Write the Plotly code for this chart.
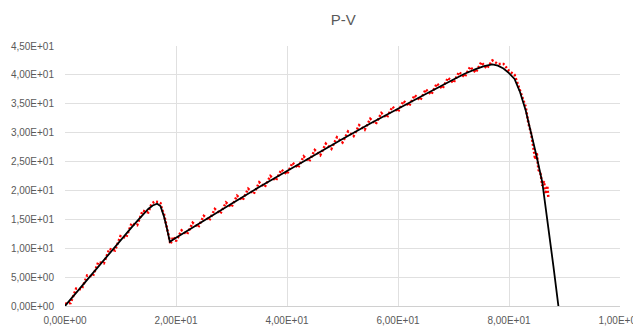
import plotly.graph_objects as go

# Fitted curve (black)
fit_x = [0, 2, 4, 6, 8, 10, 12, 13, 14, 15, 15.8, 16.6, 17.2, 17.8, 18.3, 18.9,
         20, 25, 30, 35, 40, 45, 50, 55, 60, 65, 70, 72, 74, 75.5, 77, 78, 79,
         80, 81, 82, 83, 84, 85, 86, 87, 88, 88.9]
fit_y = [0, 2.3, 4.6, 6.9, 9.2, 11.4, 13.6, 14.7, 15.8, 16.8, 17.4, 17.7, 17.3,
         15.6, 13.7, 11.1, 11.8, 14.8, 17.7, 20.6, 23.4, 26.2, 28.9, 31.6, 34.2,
         36.7, 39.2, 40.2, 41.0, 41.5, 41.8, 41.6, 41.1, 40.3, 39.3, 37.0, 33.9,
         30.0, 25.8, 21.4, 14.6, 6.9, 0]

# Measured data (red dotted)
data_x = [0, 1, 2, 3, 4, 5, 6, 7, 8, 9, 10, 11, 12, 13, 14, 15, 15.6, 16.2, 16.8,
          17.2, 17.5, 17.8, 18.1, 18.4, 18.7, 19.0, 19.5,
          20, 21, 22, 23, 24, 25, 26, 27, 28, 29, 30, 31, 32, 33, 34, 35, 36, 37,
          38, 39, 40, 41, 42, 43, 44, 45, 46, 47, 48, 49, 50, 51, 52, 53, 54, 55,
          56, 57, 58, 59, 60, 61, 62, 63, 64, 65, 66, 67, 68, 69, 70, 71, 72, 73,
          74, 75, 76, 77, 78, 79, 80, 81, 82, 83, 83.5, 84, 84.4, 84.7, 85, 85.3,
          85.7, 86, 86.3, 86.6, 86.9, 87.1]
data_y = [0.4, 0.5, 3.0, 2.9, 5.3, 5.1, 7.6, 7.4, 9.9, 9.6, 12.1, 11.8, 14.3, 14.0,
          16.5, 16.2, 17.7, 18.1, 18.0, 17.8, 16.6, 16.1, 14.7, 13.5, 11.9, 10.7, 12.0,
          11.2, 13.1, 12.4, 14.4, 13.6, 15.6, 14.8, 16.8, 16.0, 17.9, 17.1, 19.1,
          18.3, 20.3, 19.4, 21.4, 20.6, 22.5, 21.7, 23.6, 22.8, 24.8, 23.9, 25.9,
          25.0, 27.0, 26.1, 28.1, 27.2, 29.2, 28.3, 30.2, 29.4, 31.3, 30.5, 32.4,
          31.5, 33.4, 32.6, 34.5, 33.6, 35.5, 34.6, 36.5, 35.6, 37.5, 36.6, 38.5,
          37.6, 39.5, 38.6, 40.5, 39.6, 41.4, 40.4, 42.2, 41.1, 42.5, 41.9, 41.9,
          40.7, 40.0, 37.4, 34.5, 31.6, 29.8, 27.4, 25.4, 26.6, 23.6, 22.8, 20.8,
          21.6, 19.4, 20.8, 18.7]

x_ticks = [0, 20, 40, 60, 80, 100]
x_labels = ["0,00E+00", "2,00E+01", "4,00E+01", "6,00E+01", "8,00E+01", "1,00E+02"]
y_ticks = [0, 5, 10, 15, 20, 25, 30, 35, 40, 45]
y_labels = ["0,00E+00", "5,00E+00", "1,00E+01", "1,50E+01", "2,00E+01",
            "2,50E+01", "3,00E+01", "3,50E+01", "4,00E+01", "4,50E+01"]

fig = go.Figure()
fig.add_trace(go.Scatter(x=data_x, y=data_y, mode="lines",
                         line=dict(color="#ff0000", width=2.5, dash="2px,2px"),
                         showlegend=False))
fig.add_trace(go.Scatter(x=fit_x, y=fit_y, mode="lines",
                         line=dict(color="black", width=1.8), showlegend=False))

font_family = "Liberation Sans, Arial, sans-serif"
fig.update_layout(
    width=641, height=330,
    margin=dict(l=57, r=29, t=38, b=32, autoexpand=False),
    paper_bgcolor="white", plot_bgcolor="white",
    title=dict(text="P-V", x=0.523, xanchor="center", y=0.964, yanchor="middle",
               font=dict(family=font_family, size=15, color="#595959")),
    font=dict(family=font_family, size=10, color="#595959"),
)
fig.update_xaxes(range=[0, 100], tickvals=x_ticks, ticktext=x_labels,
                 showgrid=True, gridcolor="#e0e0e0", gridwidth=1,
                 showline=True, linecolor="#d0d0d0", linewidth=1,
                 zeroline=False, ticks="outside", ticklen=5,
                 tickcolor="rgba(0,0,0,0)", automargin=False)
fig.update_yaxes(range=[0, 45], tickvals=y_ticks, ticktext=y_labels,
                 showgrid=True, gridcolor="#e0e0e0", gridwidth=1,
                 showline=False, zeroline=False, ticks="outside", ticklen=8,
                 tickcolor="rgba(0,0,0,0)", automargin=False)

fig.write_html("out.html")
